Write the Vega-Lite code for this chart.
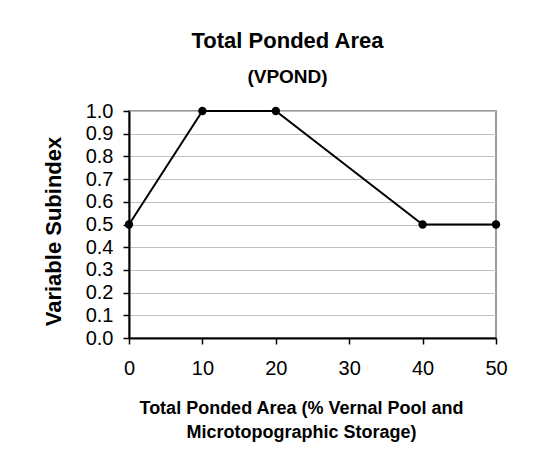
{
  "$schema": "https://vega.github.io/schema/vega-lite/v6.json",
  "autosize": "none",
  "width": 367,
  "height": 227,
  "padding": {"left": 129, "top": 111, "right": 37, "bottom": 124},
  "background": "white",
  "title": {
    "text": "Total Ponded Area",
    "subtitle": "(VPOND)",
    "anchor": "middle",
    "frame": "group",
    "dx": -25,
    "offset": 13,
    "font": "Liberation Sans",
    "fontSize": 22,
    "fontWeight": "bold",
    "color": "black",
    "subtitleFont": "Liberation Sans",
    "subtitleFontSize": 19,
    "subtitleFontWeight": "bold",
    "subtitleColor": "black",
    "subtitlePadding": 15
  },
  "data": {
    "values": [
      {"area": 0, "subindex": 0.5},
      {"area": 10, "subindex": 1.0},
      {"area": 20, "subindex": 1.0},
      {"area": 40, "subindex": 0.5},
      {"area": 50, "subindex": 0.5}
    ]
  },
  "encoding": {
    "x": {
      "field": "area",
      "type": "quantitative",
      "scale": {"domain": [0, 50], "nice": false, "zero": false},
      "axis": {
        "values": [0, 10, 20, 30, 40, 50],
        "grid": false,
        "title": ["Total Ponded Area (% Vernal Pool and", "Microtopographic Storage)"],
        "titleFont": "Liberation Sans",
        "titleFontSize": 18,
        "titleFontWeight": "bold",
        "titleColor": "black",
        "titleLineHeight": 24,
        "titleBaseline": "alphabetic",
        "titleX": 172,
        "titleY": 75,
        "labelFont": "Liberation Sans",
        "labelFontSize": 20,
        "labelColor": "black",
        "labelPadding": 14,
        "labelFlush": false,
        "tickSize": 6,
        "tickColor": "black",
        "tickWidth": 1.5,
        "domainColor": "black",
        "domainWidth": 2
      }
    },
    "y": {
      "field": "subindex",
      "type": "quantitative",
      "scale": {"domain": [0, 1], "nice": false},
      "axis": {
        "values": [0, 0.1, 0.2, 0.3, 0.4, 0.5, 0.6, 0.7, 0.8, 0.9, 1.0],
        "format": ".1f",
        "grid": true,
        "gridColor": "#c0c0c0",
        "gridWidth": 1.2,
        "title": "Variable Subindex",
        "titleFont": "Liberation Sans",
        "titleFontSize": 22,
        "titleFontWeight": "bold",
        "titleColor": "black",
        "titleY": 120,
        "titlePadding": 20,
        "labelFont": "Liberation Sans",
        "labelFontSize": 20,
        "labelColor": "black",
        "labelPadding": 10,
        "labelFlush": false,
        "tickSize": 6,
        "tickColor": "black",
        "tickWidth": 1.5,
        "domainColor": "black",
        "domainWidth": 2
      }
    }
  },
  "layer": [
    {"mark": {"type": "line", "color": "black", "strokeWidth": 2}},
    {"mark": {"type": "point", "filled": true, "color": "black", "opacity": 1, "size": 70}}
  ],
  "config": {
    "view": {"stroke": "#999999", "strokeWidth": 2}
  }
}
